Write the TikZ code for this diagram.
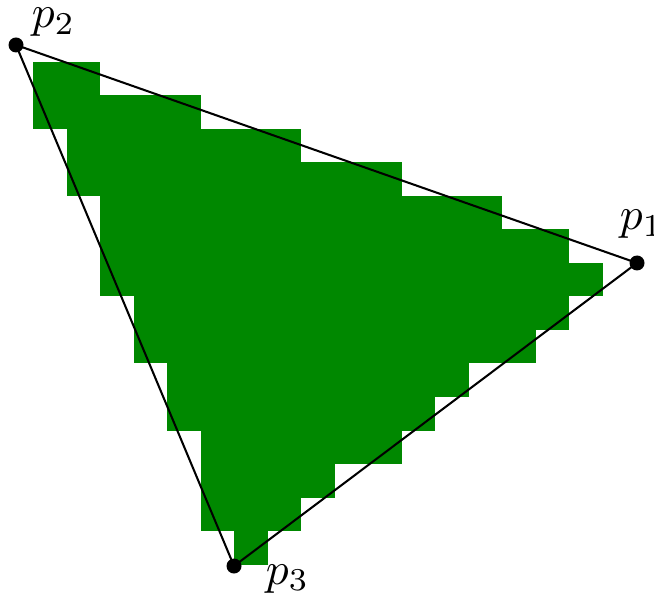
\documentclass[tikz,border=0pt]{standalone}
\definecolor{cellgreen}{RGB}{0,136,0}
\tikzset{
  cell/.style={fill=cellgreen},
  edge/.style={draw=black, line width=0.45pt},
  vdot/.style={fill=black},
  lbl/.style={inner sep=0pt, anchor=base west, font=\fontsize{9.6}{11}\selectfont}
}
\begin{document}
\begin{tikzpicture}[x=0.22pt, y=-0.22pt]
\useasboundingbox (0,0) rectangle (654,594);
% rasterized cells: row / first column / last column
\foreach \r/\a/\b in {0/0/1, 1/0/4, 2/1/7, 3/1/10, 4/2/13, 5/2/15, 6/2/16, 7/3/15,
                      8/3/14, 9/4/12, 10/4/11, 11/5/10, 12/5/8, 13/5/7, 14/6/6}
  \fill[cell] ({33+33.5*\a},{62+33.5*\r}) rectangle ({33+33.5*(\b+1)},{62+33.5*(\r+1)});
% vertices
\coordinate (p1) at (637,263);
\coordinate (p2) at (16,45);
\coordinate (p3) at (234,566);
\draw[edge] (p1) -- (p2) -- (p3) -- cycle;
\foreach \p in {p1,p2,p3}
  \fill[vdot] (\p) circle[radius=1.65pt];
% labels
\node[lbl] (l2) at (31,28) {$p_2$};
\node[lbl] (l1) at (619,230) {$p_1$};
\node[lbl] (l3) at (265,584) {$p_3$};
\end{tikzpicture}
\end{document}
